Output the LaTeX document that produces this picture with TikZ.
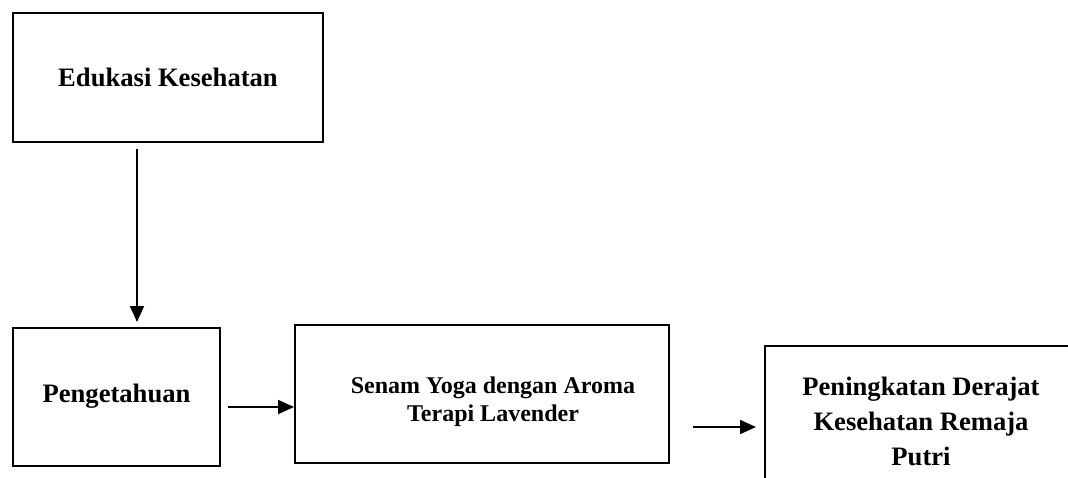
\documentclass[tikz,border=0pt]{standalone}
\usepackage{fontspec}
\setmainfont{Liberation Serif}
\usetikzlibrary{arrows.meta}
\begin{document}
\begin{tikzpicture}[x=0.5pt,y=-0.5pt,
  boxnode/.style={draw,line width=1pt,inner sep=0pt,align=center,font=\bfseries\fontsize{13.3}{17.5}\selectfont},
  arr/.style={line width=0.9pt,-{Triangle[length=8pt,width=7pt]}}]
\useasboundingbox (0,0) rectangle (1068,477);
\clip (0,0) rectangle (1068,477);
\node[boxnode,minimum width=155pt,minimum height=64.5pt] (edu) at (168,77.5) {Edukasi Kesehatan};
\node[boxnode,minimum width=103.5pt,minimum height=69pt] (peng) at (116.5,397) {\raisebox{4pt}{Pengetahuan}};
\node[boxnode,minimum width=187pt,minimum height=69pt,font=\bfseries\fontsize{12}{14}\selectfont] (senam) at (482,394) {\rule{0pt}{16.5pt}\hspace*{11pt}Senam Yoga dengan Aroma\\\hspace*{11pt}Terapi Lavender};
\node[boxnode,minimum width=156pt,minimum height=75pt] (penin) at (921,421) {Peningkatan Derajat\\Kesehatan Remaja\\Putri};
\draw[arr] ([xshift=-15.5pt,yshift=-3pt]edu.south) -- ([xshift=10.25pt,yshift=2.5pt]peng.north);
\draw[arr] ([xshift=3.5pt,yshift=-5pt]peng.east) -- ([yshift=-6.5pt]senam.west);
\draw[arr] ([xshift=11.5pt,yshift=-16.5pt]senam.east) -- ([xshift=-4pt,yshift=-3pt]penin.west);
\end{tikzpicture}
\end{document}
